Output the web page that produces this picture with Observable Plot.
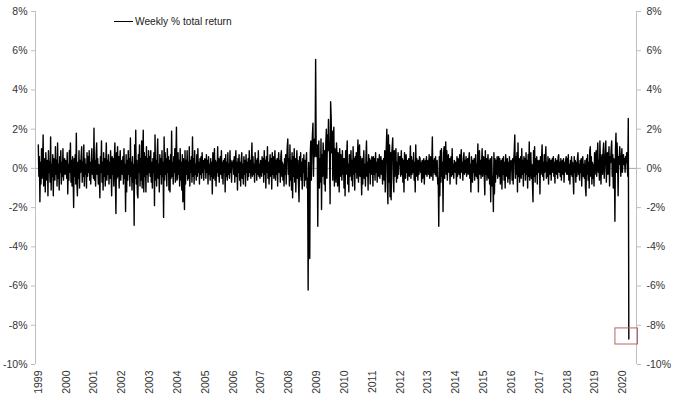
<!DOCTYPE html>
<html>
<head>
<meta charset="utf-8">
<script src="https://cdn.jsdelivr.net/npm/d3@7"></script>
<script src="https://cdn.jsdelivr.net/npm/@observablehq/plot@0.6"></script>
<style>
  html, body { margin: 0; padding: 0; background: #fff; }
  #wrap { position: relative; width: 680px; height: 402px; font-family: "Liberation Sans", Arial, sans-serif; }
  #legend { position: absolute; left: 114px; top: 16px; display: flex; align-items: center; font-size: 10.2px; color: #222; }
  #legend .sw { width: 19px; height: 0; border-top: 1.6px solid #000; margin-right: 2px; }
</style>
</head>
<body>
<div id="wrap">
  <div id="legend"><span class="sw"></span><span>Weekly % total return</span></div>
</div>
<script>
// Years shown on the category axis
const years = [1999,2000,2001,2002,2003,2004,2005,2006,2007,2008,2009,2010,2011,2012,2013,2014,2015,2016,2017,2018,2019,2020];

// Weekly % total return, one row per year
const weeklyReturns = [
  /*1999*/ [1.2,-0.4,0.6,-1.7,0.3,-0.8,1.0,-0.5,0.2,1.7,-0.9,-0.3,0.5,-1.2,0.8,0.1,-0.6,0.4,-1.4,0.9,-0.2,0.3,-0.7,1.6,-1.1,0.2,-0.4,0.7,-1.4,0.5,0.0,-0.6,1.1,-0.3,0.4,-0.9,1.3,-0.5,0.2,-1.1,0.6,-0.2,0.9,-0.8,0.3,-0.4,1.0,-0.6,0.2,0.5,-0.3,0.4],
  /*2000*/ [0.3,-0.5,0.8,-1.3,0.2,-0.6,0.9,-0.2,1.3,-0.7,0.4,-0.9,0.6,-0.3,-2.0,0.5,-0.4,0.7,-0.8,1.8,-0.6,-1.4,0.3,-0.5,0.9,-1.0,0.4,-0.2,0.6,1.1,-0.7,0.3,-0.4,1.2,-0.9,0.5,-0.3,0.2,-1.0,0.8,-0.4,0.6,-0.2,0.9,-0.6,0.3,-0.8,0.5,1.0,-0.3,0.4,-0.5],
  /*2001*/ [2.05,-0.6,0.4,-0.9,0.7,1.3,-0.3,0.5,-0.8,0.2,-0.4,-1.5,0.6,-0.2,1.4,-0.7,0.3,-1.1,0.8,-0.4,0.5,-0.9,0.2,1.3,-0.6,0.4,-0.3,0.7,-0.8,0.3,-0.5,0.9,-0.2,-1.4,0.6,-0.3,0.5,-0.9,0.4,1.3,-0.7,-2.3,0.8,-0.5,1.1,-0.4,0.6,-1.0,0.3,0.9,-0.6,0.2],
  /*2002*/ [0.4,-0.3,0.6,-0.8,1.0,-0.5,0.2,-2.2,0.7,-1.2,0.4,-0.6,0.9,-0.3,0.5,-0.9,1.55,-0.4,0.3,-1.1,0.6,-0.7,0.2,-2.9,1.2,-0.5,1.95,-0.8,0.4,-1.3,-1.5,0.7,-0.2,1.2,-0.9,0.5,-0.6,1.4,-1.0,0.3,1.95,-1.2,0.8,-0.4,0.6,-1.2,1.1,-0.3,0.5,-0.7,0.9,-0.2],
  /*2003*/ [0.6,-0.4,0.9,-0.7,0.3,-1.0,0.5,-0.2,0.8,-1.9,1.7,-0.6,0.4,-0.9,0.6,1.5,-0.5,0.2,-1.2,0.7,-0.3,0.5,-0.8,0.9,-0.4,0.3,-2.5,1.6,-0.6,0.8,-0.3,0.5,-0.9,1.0,-0.2,0.6,-1.1,0.4,-1.2,0.7,-0.5,1.9,-0.4,0.3,-0.8,0.6,-0.2,1.0,-0.7,0.5,2.1,-0.6],
  /*2004*/ [-0.5,0.8,-0.3,0.4,-0.9,1.0,-0.6,0.3,-1.1,0.7,-1.7,0.5,-0.4,-2.1,0.9,-0.8,0.4,-0.3,0.9,-0.6,0.3,-0.5,1.1,-0.9,0.4,-0.2,0.6,-0.7,1.6,-0.4,0.5,-0.8,0.9,-0.3,0.2,-0.6,0.7,-0.4,1.0,-0.2,0.3,-0.8,0.5,-0.3,0.6,-0.5,0.8,-0.2,0.4,-0.6,0.3,0.5],
  /*2005*/ [0.3,-0.5,0.7,-0.2,0.4,-0.8,0.6,-0.3,0.2,-0.6,0.5,-0.4,0.3,-1.3,0.8,-0.5,0.2,1.0,-0.6,0.4,-0.9,0.3,-0.2,1.1,-0.4,0.5,-0.7,0.2,0.6,-0.3,0.9,-0.5,0.3,-0.8,0.4,-0.2,0.5,-1.2,0.7,-0.4,0.3,-0.6,0.8,-0.3,0.2,-0.5,0.9,-0.2,0.4,-0.7,0.3,0.1],
  /*2006*/ [0.4,-0.3,0.6,-0.7,0.2,0.9,-0.4,0.3,-1.1,0.5,-0.2,0.7,-0.6,0.3,-0.9,0.4,0.8,-0.5,0.2,-0.8,0.6,-0.3,0.4,-0.9,0.7,-0.2,0.3,-0.6,0.5,-0.4,0.9,-0.2,0.4,-0.5,0.3,1.3,-0.4,0.6,-0.3,0.2,-0.7,0.8,-0.2,0.4,-0.6,0.5,-0.3,0.9,-0.4,0.2,-0.5,0.4],
  /*2007*/ [0.3,-0.4,0.6,-0.2,0.5,-0.7,0.9,-0.3,0.4,-1.0,0.6,-0.2,1.1,-0.5,0.3,-0.8,0.2,0.7,-0.4,0.5,-1.05,0.8,-0.3,0.6,-0.5,0.2,0.9,-0.6,0.4,-0.3,0.5,-0.9,0.3,0.8,-0.2,0.4,-0.7,0.6,0.9,-0.4,0.3,-0.6,0.2,-0.9,0.5,-0.3,0.7,-0.8,0.4,1.1,1.5,-0.3],
  /*2008*/ [0.5,-0.9,1.2,-0.6,0.4,-1.1,0.8,-1.5,0.6,-0.4,1.0,-0.7,0.5,-1.2,0.3,0.9,-0.5,0.4,-0.8,-1.7,0.6,-0.4,0.8,-0.6,0.3,-1.05,0.5,-0.2,0.7,-0.9,0.4,-0.6,0.3,0.8,-1.0,-0.5,-6.2,0.3,-0.9,-4.6,0.8,1.4,-0.6,0.9,1.7,2.3,-0.4,1.1,1.5,0.6,5.55,0.9],
  /*2009*/ [0.6,1.2,-2.95,0.8,1.4,-1.0,0.5,-0.7,1.5,-2.1,0.7,-0.4,1.3,0.6,-0.8,0.9,-1.15,1.3,2.0,-0.5,1.7,0.9,2.5,1.2,0.8,-1.8,3.4,2.6,0.8,1.9,-0.6,1.4,2.1,-0.9,1.0,0.4,-0.7,1.3,0.6,-0.9,0.8,0.3,-1.2,1.0,-0.4,0.7,0.2,-0.6,0.9,-0.3,0.5,-1.0],
  /*2010*/ [0.5,-1.4,0.9,-0.3,0.6,1.4,-0.8,0.2,-1.2,0.7,-0.4,0.3,0.9,-0.6,0.4,-0.9,1.1,-0.3,0.5,-1.1,0.6,-0.2,0.8,-0.5,0.3,1.45,-0.7,0.4,1.2,-0.4,0.6,-0.2,-1.35,0.5,-0.8,0.3,0.9,-0.5,0.2,-0.9,0.6,1.4,-0.4,0.3,-1.1,0.7,-0.2,0.5,-0.8,0.4,-0.3,0.6],
  /*2011*/ [0.4,-0.9,0.6,-0.3,0.5,-0.6,0.8,-0.2,0.3,-0.7,0.5,0.2,-0.4,0.7,-0.5,0.3,0.6,-0.3,0.4,-0.8,0.2,0.5,-0.6,0.9,-1.2,0.4,1.1,2.0,-0.9,-1.8,1.7,-0.7,1.2,-1.45,0.8,-1.6,0.6,1.1,1.55,-0.5,-1.2,0.9,-0.4,0.5,1.0,-0.7,0.3,-0.5,0.8,-0.3,0.6,0.2],
  /*2012*/ [0.6,-0.4,0.9,-0.3,0.5,-0.7,0.4,-1.2,0.8,0.3,-0.5,0.7,-0.2,0.4,-0.6,0.3,0.5,-0.4,0.2,1.15,-0.5,0.6,-0.3,0.4,-0.2,0.8,-0.6,0.3,-1.2,1.2,-0.4,0.5,0.2,-0.6,0.4,-0.3,0.6,0.5,-0.2,0.3,-0.7,0.4,-0.5,0.3,0.5,-0.8,0.2,0.4,-0.3,0.6,-0.4,0.3],
  /*2013*/ [0.4,-0.3,0.7,-0.5,0.2,0.6,-0.4,0.3,1.6,-0.6,0.4,-0.2,0.5,-0.3,0.6,-0.4,0.2,0.4,-0.8,-0.5,-2.95,0.6,-1.4,0.9,-0.7,1.0,-0.4,0.3,-2.2,0.8,1.1,-0.5,0.6,1.35,-0.3,0.9,-0.6,0.4,0.7,-0.2,0.5,-0.8,0.3,0.6,-0.4,1.0,-0.3,0.2,-0.5,0.4,0.3,-0.2],
  /*2014*/ [0.3,-0.8,0.6,-0.4,0.5,0.2,-0.3,0.7,-0.5,0.4,0.95,-0.2,0.3,-0.6,0.5,0.8,-0.3,0.4,-0.2,0.6,-0.4,0.3,0.5,-0.3,0.4,0.8,-0.5,0.2,-1.2,0.6,0.3,-0.7,0.4,-0.2,0.5,-0.6,0.3,0.7,-0.4,0.2,-0.5,1.25,-1.2,0.6,0.9,-0.3,0.4,-0.5,0.3,1.0,-0.4,0.2],
  /*2015*/ [0.6,-0.4,-1.35,0.9,-0.3,0.5,-0.6,0.3,0.7,-0.5,0.4,-0.8,0.5,-1.7,0.3,0.6,-0.9,-0.4,-2.2,0.8,-1.3,0.5,-0.7,0.4,-0.3,0.6,-0.5,0.3,0.6,-0.4,0.5,-0.8,0.2,0.4,-1.05,0.5,-0.3,0.6,-0.6,0.3,-1.0,0.7,-0.4,0.2,0.5,-0.7,0.3,-0.5,0.6,-0.8,0.2,0.4],
  /*2016*/ [0.3,-0.6,0.5,-0.8,0.4,0.9,1.7,-0.5,0.6,-0.3,0.8,-1.2,1.3,-0.4,0.5,-0.7,0.3,0.6,-0.5,1.0,-0.3,0.4,-0.9,0.6,-0.2,0.5,-0.6,0.8,-0.3,0.4,-1.0,0.7,-0.4,1.35,-0.6,0.3,0.8,-0.5,0.2,-0.8,-1.7,0.9,-0.4,1.1,-0.7,0.5,-0.3,0.6,-0.8,0.4,-0.2,0.3],
  /*2017*/ [0.4,-1.3,0.6,-0.3,0.5,1.2,-0.4,0.3,-0.6,0.7,-0.2,0.4,1.1,-0.5,0.3,-0.4,0.6,-0.8,0.2,0.5,-0.3,0.4,-0.6,0.3,0.5,-0.2,0.6,-0.4,0.3,-0.75,0.5,0.2,-0.3,0.4,-0.5,0.6,0.7,-0.2,0.3,-0.4,0.5,-0.6,0.2,0.4,-0.3,0.5,-0.7,0.3,-0.2,0.4,0.6,-0.3],
  /*2018*/ [0.5,-0.3,0.7,-0.6,0.2,-0.8,0.4,-0.3,0.6,-0.4,0.3,-0.5,-1.3,0.6,-0.2,0.4,-0.7,0.3,-0.4,0.5,0.8,-0.3,0.2,-0.6,0.4,-0.2,0.5,-0.9,0.3,0.6,-0.4,0.2,-0.5,0.4,-1.0,-1.4,0.5,-0.3,0.7,-0.6,0.3,-1.0,0.9,1.1,-0.4,0.6,-0.8,0.3,-0.5,0.2,-0.9,0.8],
  /*2019*/ [-0.3,0.6,0.9,-0.4,0.5,1.3,-0.2,0.4,-0.6,1.4,0.3,-0.8,0.5,0.7,-0.3,0.9,1.3,-0.5,0.2,0.6,1.4,-0.7,0.4,0.8,-0.3,0.5,1.1,-0.9,0.6,0.3,1.0,1.4,-0.4,0.7,-1.0,0.5,0.3,-2.7,0.9,1.8,-0.2,1.3,0.4,-1.4,0.6,0.2,1.1,0.5,-0.4,0.3,1.0,-0.2],
  /*2020*/ [0.4,0.7,0.2,0.5,-0.2,0.6,0.3,0.8,0.1,-0.4,2.55,-8.7]
];

// Axis ticks
const yTicks = [-10,-8,-6,-4,-2,0,2,4,6,8];
const yearTicks = years;

// Highlight box around the March 2020 trough (data units)
const highlight = [{x1: 2019.73, x2: 2020.54, y1: -8.16, y2: -8.98}];

const series = weeklyReturns.flatMap((row, yi) =>
  row.map((r, i) => ({x: years[yi] + i / 52, r}))
);

const axisColor = "#bfbfbf";
const textColor = "#333";
const xDomain = [1998.899, 2020.487];

const chart = Plot.plot({
  width: 680,
  height: 402,
  marginLeft: 35,
  marginRight: 44,
  marginTop: 11,
  marginBottom: 38,
  style: {fontFamily: '"Liberation Sans", Arial, sans-serif', fontSize: "10.5px", color: textColor, background: "#fff"},
  x: {domain: xDomain},
  y: {domain: [-10, 8]},
  marks: [
    Plot.ruleY([0], {stroke: "#a6a6a6", strokeWidth: 1}),
    Plot.ruleX([xDomain[0]], {stroke: axisColor}),
    Plot.ruleX([xDomain[1]], {stroke: axisColor}),
    Plot.axisY({anchor: "left", ticks: yTicks, tickFormat: d => `${d}%`, tickSize: 4, tickPadding: 4, stroke: axisColor, fill: textColor, label: null}),
    Plot.axisY({anchor: "right", ticks: yTicks, tickFormat: d => `${d}%`, tickSize: 4, tickPadding: 6, stroke: axisColor, fill: textColor, label: null}),
    Plot.axisX({anchor: "bottom", ticks: yearTicks, tickFormat: d => String(d), tickRotate: -90, tickSize: 0, tickPadding: 6, fill: textColor, label: null}),
    Plot.line(series, {x: "x", y: "r", stroke: "#000", strokeWidth: 1.4}),
    Plot.rect(highlight, {x1: "x1", x2: "x2", y1: "y1", y2: "y2", fill: "none", stroke: "#b86464", strokeWidth: 1})
  ]
});
document.getElementById("wrap").appendChild(chart);
chart.style.position = "absolute";
chart.style.left = "0";
chart.style.top = "0";
document.getElementById("legend").style.zIndex = "2";
</script>
</body>
</html>
